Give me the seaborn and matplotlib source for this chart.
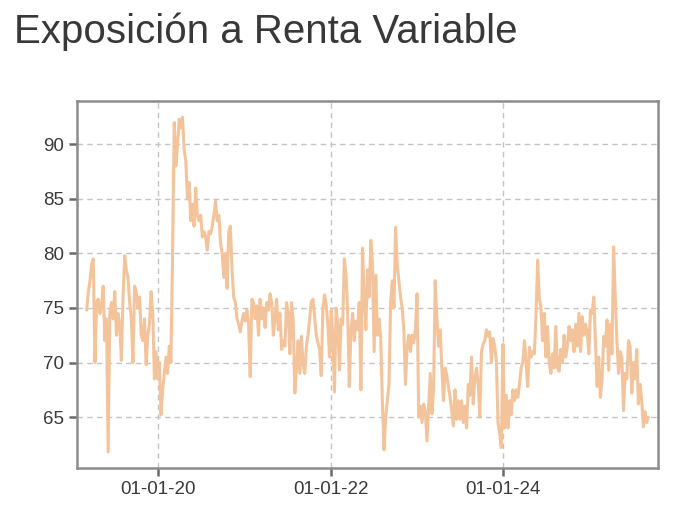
import pandas as pd
import numpy as np
import matplotlib.pyplot as plt
import matplotlib.dates as mdates
import seaborn as sns

# weekly readings of the equity exposure (%), first week 2019-03-04
start_date = "2019-03-04"
tramo_2019 = [74.8, 76.5, 77.5, 79.0, 79.5, 70.0, 75.5, 75.8, 74.5, 75.2, 77.0, 72.0, 74.0, 61.8,
              74.5, 75.5, 74.0, 76.5, 72.5, 74.5, 73.5, 70.2, 76.0, 79.8, 78.5, 77.8, 75.5, 74.0,
              70.0, 77.0, 76.5, 75.0, 76.0, 72.5, 72.0, 74.0, 69.8, 72.5, 73.5, 76.5, 74.5, 68.5]
tramo_2020a = [71.0, 68.5, 70.0, 65.2, 67.5, 69.0, 70.5, 69.0, 71.5, 70.0, 80.0, 92.0, 88.0, 90.0,
               92.3, 91.5, 92.5, 89.5, 88.5, 85.0, 86.5, 83.0, 84.5, 82.5, 86.0, 83.5, 83.0, 83.5,
               81.5, 82.0, 81.5, 80.3, 82.0, 81.8, 82.5, 83.5, 84.8, 83.0, 83.5, 81.0, 80.0, 77.8]
tramo_2020b = [80.0, 76.8, 82.0, 82.5, 78.5, 76.0, 75.5, 74.0, 73.5, 72.8, 73.8, 74.5, 73.8, 74.8,
               73.5, 68.7, 75.8, 75.5, 74.0, 75.2, 72.5, 75.8, 74.0, 75.0, 73.2, 75.5, 74.8, 76.3,
               75.5, 72.5, 74.0, 75.8, 73.0, 74.5, 71.2, 72.0, 71.5, 75.5, 74.5, 70.8, 75.5, 74.0, 67.2]
tramo_2021 = [69.5, 72.0, 69.0, 72.4, 69.8, 69.0, 71.5, 72.5, 74.0, 75.6, 75.8, 74.2, 72.5, 71.8,
              71.2, 68.8, 75.0, 76.2, 75.3, 73.5, 70.5, 74.8, 72.5, 67.3, 75.0, 73.5, 69.3, 74.0,
              73.5, 79.5, 78.0, 74.5, 67.8, 73.0, 74.5, 72.0, 73.8, 73.0, 75.5, 67.5, 80.5, 76.0]
tramo_2022 = [73.0, 78.5, 76.0, 81.2, 79.0, 71.0, 78.0, 72.5, 74.0, 72.2, 66.5, 62.0, 65.0, 66.5,
              68.0, 75.5, 77.5, 75.0, 82.4, 79.0, 77.5, 76.0, 75.0, 73.0, 68.0, 71.5, 72.5, 71.0,
              72.5, 71.8, 73.0, 76.3, 65.0, 66.0, 64.5, 66.2, 65.5, 62.8, 66.0, 69.0, 65.3, 67.5, 77.5]
tramo_2023 = [74.0, 71.5, 73.0, 69.5, 66.5, 69.5, 68.8, 67.8, 66.8, 65.5, 64.2, 67.5, 64.8, 66.5,
              64.8, 66.5, 64.5, 66.0, 64.0, 68.0, 67.0, 70.5, 66.2, 68.5, 69.5, 68.0, 65.0, 71.0,
              71.7, 72.0, 73.0, 72.4, 72.8, 70.0, 72.2, 71.5, 70.2, 64.5, 63.5, 62.2, 71.7, 64.0]
tramo_2024 = [67.0, 64.0, 66.5, 65.2, 67.5, 66.5, 67.5, 66.8, 68.0, 69.5, 70.0, 72.0, 70.0, 67.8,
              71.4, 70.5, 71.0, 70.8, 74.2, 79.4, 76.0, 75.0, 72.0, 74.5, 70.5, 73.3, 70.0, 69.0,
              70.8, 69.5, 73.3, 69.5, 69.2, 71.2, 70.0, 72.5, 70.5, 71.5, 73.3, 72.0, 73.0, 71.0, 73.5]
tramo_2025 = [71.5, 74.5, 71.0, 74.2, 72.5, 73.5, 72.8, 70.8, 74.8, 74.5, 76.0, 72.0, 67.8, 70.5,
              66.8, 68.5, 72.4, 71.5, 73.9, 69.3, 73.5, 70.8, 80.6, 76.0, 72.0, 69.0, 71.0, 70.5,
              65.6, 69.0, 68.5, 72.0, 71.5, 67.2, 70.0, 68.5, 71.2, 66.2, 68.0, 66.5, 64.1, 65.5,
              64.5, 65.0]

valores = (tramo_2019 + tramo_2020a + tramo_2020b + tramo_2021 + tramo_2022
           + tramo_2023 + tramo_2024 + tramo_2025)
fechas = pd.date_range(start_date, periods=len(valores), freq="7D")
df = pd.DataFrame({"fecha": fechas, "exposicion": valores})

sns.set_style("ticks")
plt.rcParams["font.family"] = ["Liberation Sans", "DejaVu Sans"]

fig = plt.figure(figsize=(6.98, 5.22), dpi=100)
ax = fig.add_axes([0.110, 0.1034, 0.832, 0.7031])

sns.lineplot(data=df, x="fecha", y="exposicion", ax=ax, color="#F3C49B", linewidth=2.2)

ax.set_xlim(pd.Timestamp("2019-01-21"), pd.Timestamp("2025-10-17"))
ax.set_ylim(60.33, 93.97)
ax.set_yticks([65, 70, 75, 80, 85, 90])
ax.xaxis.set_major_locator(mdates.YearLocator(2))
ax.xaxis.set_major_formatter(mdates.DateFormatter("%d-%m-%y"))

ax.set_xlabel("")
ax.set_ylabel("")
ax.grid(True, linestyle=(0, (4, 3)), color="#c4c4c4", linewidth=1)
for s in ax.spines.values():
    s.set_color("#8c8c8c")
    s.set_linewidth(1.8)
ax.tick_params(axis="both", which="major", left=True, bottom=True, direction="out",
               color="#6a6a6a", length=5.5, width=1.8,
               labelcolor="#3a3a3a", labelsize=13.5, pad=3.5)

fig.text(0.02, 0.918, "Exposición a Renta Variable", fontsize=29, color="#383838",
         va="baseline", ha="left")

plt.savefig("out.png", dpi=100)
